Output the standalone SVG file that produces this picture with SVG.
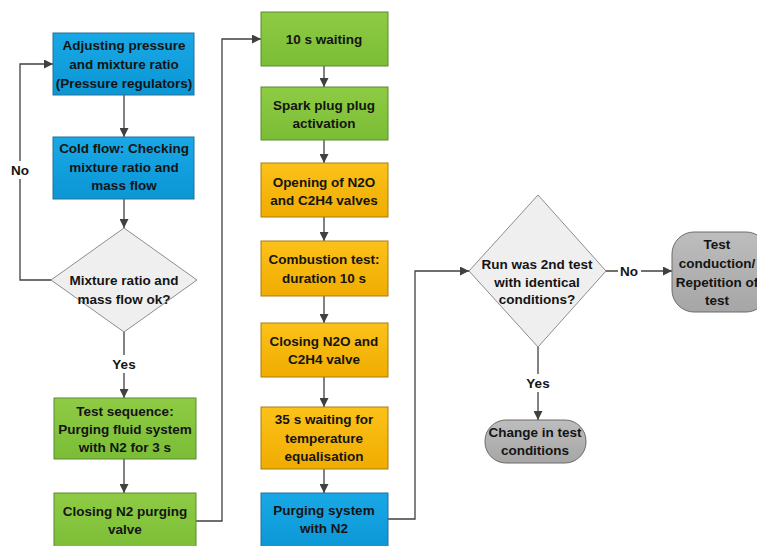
<svg xmlns="http://www.w3.org/2000/svg" width="757" height="546" viewBox="0 0 757 546">
<defs>
<marker id="ah" viewBox="0 0 10 10" refX="10" refY="5" markerWidth="9" markerHeight="9" markerUnits="userSpaceOnUse" orient="auto">
<path d="M0,0 L10,5 L0,10 z" fill="#404040"/>
</marker>
<linearGradient id="gBlue" x1="0" y1="0" x2="0" y2="1"><stop offset="0" stop-color="#19a8e6"/><stop offset="1" stop-color="#0b96d4"/></linearGradient>
<linearGradient id="gGreen" x1="0" y1="0" x2="0" y2="1"><stop offset="0" stop-color="#8fcb45"/><stop offset="1" stop-color="#7bbd36"/></linearGradient>
<linearGradient id="gOrange" x1="0" y1="0" x2="0" y2="1"><stop offset="0" stop-color="#fcc21a"/><stop offset="1" stop-color="#f0ac00"/></linearGradient>
<linearGradient id="gGray" x1="0" y1="0" x2="0" y2="1"><stop offset="0" stop-color="#bdbdbd"/><stop offset="1" stop-color="#a6a6a6"/></linearGradient>
</defs>
<style>
text{font-family:"Liberation Sans",Arial,sans-serif;font-weight:bold;font-size:13.5px;fill:#141414;text-anchor:middle}
.blue{fill:url(#gBlue);stroke:#2b6f96;stroke-width:1}
.green{fill:url(#gGreen);stroke:#5a8a2e;stroke-width:1}
.orange{fill:url(#gOrange);stroke:#a77d12;stroke-width:1}
.term{fill:url(#gGray);stroke:#6b6b6b;stroke-width:1}
.dia{fill:#efefef;stroke:#8c8c8c;stroke-width:1}
.ca{fill:none;stroke:#404040;stroke-width:1.3;marker-end:url(#ah)}
</style>
<rect width="757" height="546" fill="#ffffff"/>

<g id="connectors">
<path class="ca" d="M124,95 V137"/>
<path class="ca" d="M124,199 V228"/>
<path class="ca" d="M51,280 H20 V64 H53"/>
<path class="ca" d="M124,332 V398"/>
<path class="ca" d="M124,459 V493"/>
<path class="ca" d="M196,521 H222 V39 H261"/>
<path class="ca" d="M324,66 V87"/>
<path class="ca" d="M324,140 V163"/>
<path class="ca" d="M324,217 V241"/>
<path class="ca" d="M324,296 V323"/>
<path class="ca" d="M324,377 V407"/>
<path class="ca" d="M324,469 V493"/>
<path class="ca" d="M388,519 H415 V271 H469"/>
<path class="ca" d="M606,271 H672"/>
<path class="ca" d="M538,347 V420"/>
<rect x="9" y="161" width="22" height="18" fill="#ffffff"/>
<text x="20" y="175">No</text>
<rect x="110" y="355" width="28" height="18" fill="#ffffff"/>
<text x="124" y="369">Yes</text>
<rect x="618" y="263" width="23" height="16" fill="#ffffff"/>
<text x="629" y="276">No</text>
<rect x="524" y="374" width="28" height="18" fill="#ffffff"/>
<text x="538" y="388">Yes</text>
</g>

<g id="adjusting">
<rect class="blue" x="53" y="33" width="141" height="62"/>
<text x="124" y="50">Adjusting pressure</text>
<text x="124" y="69">and mixture ratio</text>
<text x="124" y="88">(Pressure regulators)</text>
</g>
<g id="coldflow">
<rect class="blue" x="53" y="137" width="141" height="62"/>
<text x="124" y="153">Cold flow: Checking</text>
<text x="124" y="172">mixture ratio and</text>
<text x="124" y="190">mass flow</text>
</g>
<g id="decision1">
<polygon class="dia" points="124,228 197,280 124,332 51,280"/>
<text x="124" y="285">Mixture ratio and</text>
<text x="124" y="304">mass flow ok?</text>
</g>
<g id="testsequence">
<rect class="green" x="54" y="398" width="142" height="61"/>
<text x="125" y="416">Test sequence:</text>
<text x="125" y="434">Purging fluid system</text>
<text x="125" y="452">with N2 for 3 s</text>
</g>
<g id="closingN2">
<rect class="green" x="54" y="493" width="142" height="60"/>
<text x="125" y="516">Closing N2 purging</text>
<text x="125" y="534">valve</text>
</g>
<g id="waiting10">
<rect class="green" x="261" y="12" width="127" height="54"/>
<text x="324" y="44">10 s waiting</text>
</g>
<g id="spark">
<rect class="green" x="261" y="87" width="127" height="53"/>
<text x="324" y="110">Spark plug plug</text>
<text x="324" y="128">activation</text>
</g>
<g id="opening">
<rect class="orange" x="261" y="163" width="127" height="54"/>
<text x="324" y="187">Opening of N2O</text>
<text x="324" y="205">and C2H4 valves</text>
</g>
<g id="combustion">
<rect class="orange" x="261" y="241" width="127" height="55"/>
<text x="324" y="264">Combustion test:</text>
<text x="324" y="283">duration 10 s</text>
</g>
<g id="closingN2O">
<rect class="orange" x="261" y="323" width="127" height="54"/>
<text x="324" y="346">Closing N2O and</text>
<text x="324" y="364">C2H4 valve</text>
</g>
<g id="waiting35">
<rect class="orange" x="261" y="407" width="127" height="62"/>
<text x="324" y="424">35 s waiting for</text>
<text x="324" y="443">temperature</text>
<text x="324" y="461">equalisation</text>
</g>
<g id="purging">
<rect class="blue" x="261" y="493" width="127" height="60"/>
<text x="324" y="515">Purging system</text>
<text x="324" y="533">with N2</text>
</g>
<g id="decision2">
<polygon class="dia" points="538,195 606,271 538,347 469,271"/>
<text x="537" y="269">Run was 2nd test</text>
<text x="537" y="287">with identical</text>
<text x="537" y="304">conditions?</text>
</g>
<g id="repetition">
<rect class="term" x="672" y="232" width="96" height="80" rx="22" ry="22"/>
<text x="717" y="249">Test</text>
<text x="717" y="268">conduction/</text>
<text x="717" y="287">Repetition of</text>
<text x="717" y="305">test</text>
</g>
<g id="change">
<rect class="term" x="485" y="420" width="101" height="43" rx="21" ry="21"/>
<text x="535" y="437">Change in test</text>
<text x="535" y="455">conditions</text>
</g>
</svg>
